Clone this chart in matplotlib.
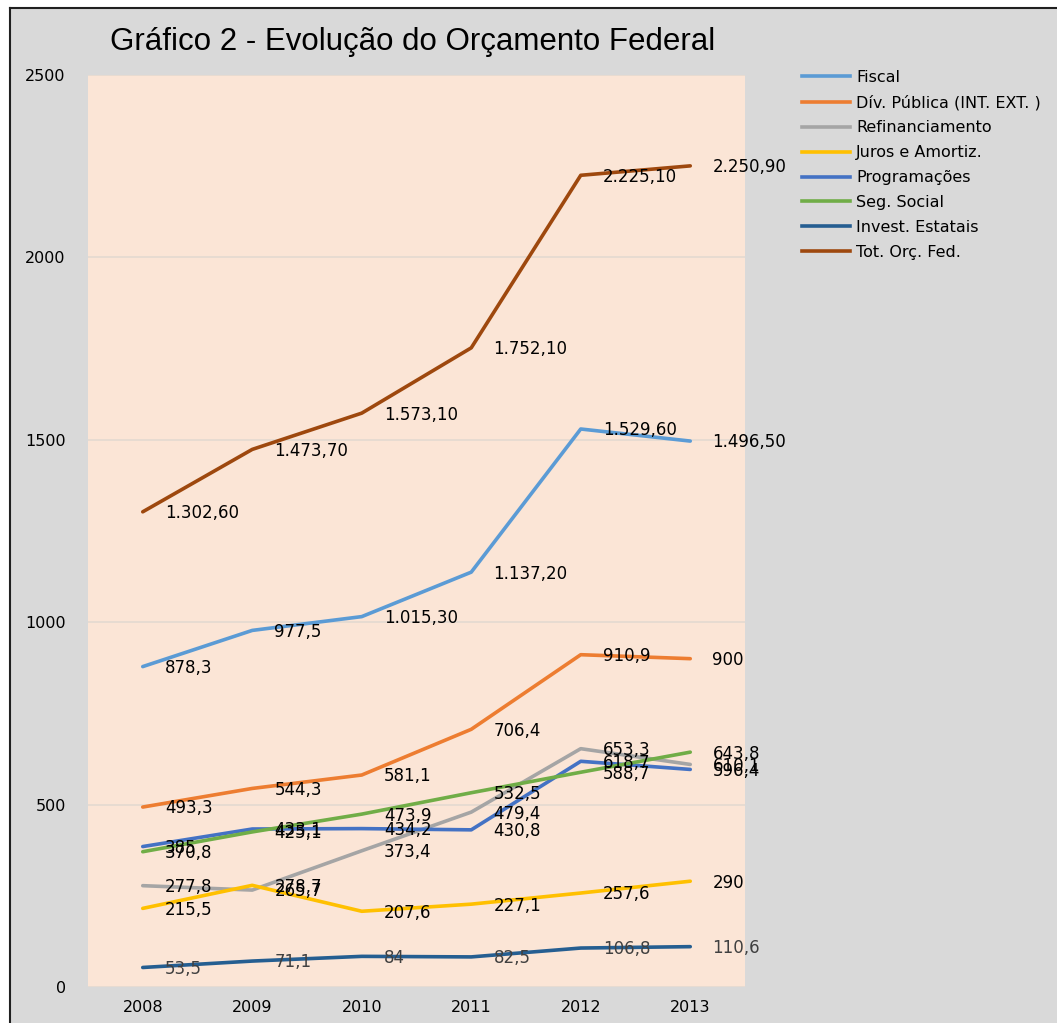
import matplotlib.pyplot as plt
from matplotlib.lines import Line2D
from matplotlib.patches import Rectangle

# * Data
years = ["2008", "2009", "2010", "2011", "2012", "2013"]
fiscal = [878.3, 977.5, 1015.3, 1137.2, 1529.6, 1496.5]
div_publica = [493.3, 544.3, 581.1, 706.4, 910.9, 900]
refinanciamento = [277.8, 265.7, 373.4, 479.4, 653.3, 610.1]
juros = [215.5, 278.7, 207.6, 227.1, 257.6, 290]
programacoes = [385, 433.1, 434.2, 430.8, 618.7, 596.4]
seg_social = [370.8, 425.1, 473.9, 532.5, 588.7, 643.8]
invest_estatais = [53.5, 71.1, 84, 82.5, 106.8, 110.6]
total = [1302.6, 1473.7, 1573.1, 1752.1, 2225.1, 2250.9]

series = [
    ("Fiscal", fiscal, "#5b9bd5"),
    ("Dív. Pública (INT. EXT. )", div_publica, "#ed7d31"),
    ("Refinanciamento", refinanciamento, "#a5a5a5"),
    ("Juros e Amortiz.", juros, "#ffc000"),
    ("Programações", programacoes, "#4472c4"),
    ("Seg. Social", seg_social, "#70ad47"),
    ("Invest. Estatais", invest_estatais, "#255e91"),
    ("Tot. Orç. Fed.", total, "#9e480e"),
]


# Format numbers the brazilian way
def fmt(v):
    if v >= 1000:
        s = f"{v:,.2f}"
        return s.replace(",", "X").replace(".", ",").replace("X", ".")
    return f"{v:g}".replace(".", ",")


# * Plot
W, H = 1057, 1023
fig = plt.figure(figsize=(W / 100, H / 100), dpi=100, facecolor="white")

# gray chart area with black border on left/top
fig.add_artist(Rectangle((10 / W, 0), 1, 1 - 8 / H, transform=fig.transFigure,
                         facecolor="#d9d9d9", edgecolor="none", zorder=0))
fig.add_artist(Line2D([10 / W, 10 / W], [0, 1 - 8 / H], color="#202020", lw=1.5))
fig.add_artist(Line2D([10 / W, 1], [1 - 8 / H, 1 - 8 / H], color="#202020", lw=1.5))

ax = fig.add_axes([88 / W, 1 - 987 / H, (745 - 88) / W, (987 - 75) / H])
ax.set_facecolor("#fbe5d6")

x = list(range(len(years)))
for name, vals, color in series:
    ax.plot(x, vals, color=color, lw=2.6, label=name, solid_capstyle="round", zorder=3)
    tcolor = "#404040" if name == "Invest. Estatais" else "black"
    for xi, v in zip(x, vals):
        ax.annotate(fmt(v), (xi, v), xytext=(16, -1), textcoords="offset points",
                    ha="left", va="center", fontsize=12, color=tcolor, zorder=4)

ax.set_xlim(-0.5, 5.5)
ax.set_ylim(0, 2500)
ax.set_yticks([0, 500, 1000, 1500, 2000, 2500])
ax.set_xticks(x)
ax.set_xticklabels(years)
ax.tick_params(axis="both", length=0, labelsize=11.5)
ax.tick_params(axis="y", pad=16)
ax.tick_params(axis="x", pad=9)
ax.grid(axis="y", color="#e3d9d1", lw=1.2, zorder=1)
for s in ax.spines.values():
    s.set_visible(False)

fig.text(110 / W, 1 - 42 / H, "Gráfico 2 - Evolução do Orçamento Federal",
         fontsize=22.5, family="Liberation Sans", va="center", ha="left")

handles = [Line2D([], [], color=c, lw=2.6) for _, _, c in series]
labels = [n for n, _, _ in series]
fig.legend(handles, labels, loc="upper left", bbox_to_anchor=(794 / W, 1 - 62 / H),
           frameon=False, fontsize=11.5, handlelength=3.0, handletextpad=0.4,
           labelspacing=0.62, borderpad=0)

plt.savefig("out.png", dpi=100, facecolor=fig.get_facecolor())
